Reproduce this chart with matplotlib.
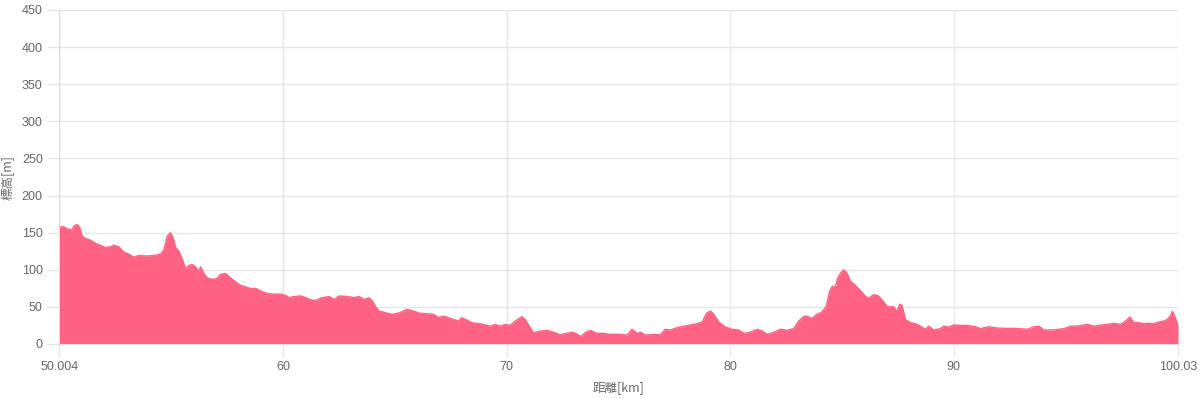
import matplotlib
matplotlib.use("Agg")
import matplotlib.pyplot as plt
from matplotlib.ticker import FixedLocator

plt.rcParams['font.family'] = ['Liberation Sans', 'Noto Sans CJK JP', 'DejaVu Sans']

distance_km = [
    50.004, 50.20, 50.35, 50.50, 50.57, 50.65, 50.80, 50.91, 51.02, 51.17, 51.39, 51.62, 51.84,
    52.06, 52.29, 52.44, 52.66, 52.88, 53.11, 53.33, 53.56, 53.93, 54.23, 54.53, 54.68, 54.83,
    54.97, 55.09, 55.20, 55.35, 55.50, 55.65, 55.80, 55.95, 56.09, 56.24, 56.32, 56.47, 56.62,
    56.84, 57.06, 57.21, 57.44, 57.66, 57.89, 58.11, 58.33, 58.56, 58.78, 59.00, 59.30, 59.60,
    59.90, 60.12, 60.27, 60.50, 60.80, 61.02, 61.32, 61.54, 61.69, 62.06, 62.29, 62.51, 62.88,
    63.18, 63.41, 63.63, 63.85, 64.00, 64.15, 64.30, 64.60, 64.90,
    65.24, 65.54, 65.84, 66.13, 66.43, 66.73, 66.96, 67.18, 67.40, 67.63, 67.85, 68.00, 68.22,
    68.45, 68.67, 68.97, 69.27, 69.49, 69.72, 69.94, 70.16, 70.39, 70.69, 70.84, 71.06, 71.21,
    71.51, 71.81, 72.10, 72.40, 72.70, 72.93, 73.15, 73.33, 73.52, 73.75, 74.04, 74.34, 74.64,
    75.09, 75.39, 75.61, 75.84, 75.99, 76.21, 76.58, 76.88, 77.10, 77.33, 77.63, 77.93, 78.22,
    78.52, 78.75, 78.94, 79.12, 79.27, 79.49, 79.79, 80.09, 80.39, 80.61, 80.91, 81.21, 81.43,
    81.66, 81.96, 82.25, 82.55, 82.85, 83.07,
    83.28, 83.43, 83.66, 83.88, 84.10, 84.30, 84.45, 84.58, 84.70, 84.81, 84.93, 85.07, 85.22,
    85.37, 85.60, 85.82, 86.04, 86.19, 86.42, 86.64, 86.87, 87.04, 87.31, 87.46, 87.58, 87.69,
    87.84, 88.06, 88.28, 88.51, 88.73, 88.88, 89.10, 89.40, 89.55, 89.78, 90.00, 90.30, 90.60,
    90.97, 91.19, 91.57, 91.94, 92.39, 92.84, 93.28, 93.58, 93.81, 94.03, 94.48, 94.93, 95.22,
    95.52, 95.97, 96.27, 96.57, 96.87, 97.16, 97.46, 97.69, 97.88, 98.06, 98.28, 98.51, 98.73,
    98.96, 99.18, 99.40, 99.55, 99.70, 99.78, 99.88, 100.03,
]

elevation_m = [
    157.6, 158, 155, 154.5, 152, 159, 161, 157, 145.5, 142, 140, 135.6, 133,
    130, 131, 133, 131, 124, 121, 117, 119.4, 118.5, 119.4, 121, 127.5, 145.5,
    150, 143, 130, 125, 114, 101.5, 106, 107, 104, 98, 104, 95, 89,
    87, 88.5, 94, 95, 89, 83.5, 79, 77, 74.5, 75, 71.4, 68, 67,
    67.4, 65.5, 62.4, 64, 64.7, 62.4, 58.8, 59.3, 62, 64, 60, 64.7, 64,
    62.4, 64, 60, 62.4, 58, 50, 44.5, 42, 40,
    42.2, 46.7, 44.5, 41.3, 40.9, 40, 35.5, 37.7, 35.5, 33, 31, 35.5, 32.3,
    28.7, 27.8, 26.5, 24, 26.5, 24, 26.5, 25, 31, 36.8, 33, 22, 15.3,
    17.5, 18.4, 16, 12.6, 14.4, 16, 13.5, 10, 15.3, 18.4, 14.4, 14.4, 13,
    13, 12, 19.8, 14.4, 16, 12, 13, 12.6, 19.8, 18.9, 22, 24, 25.6,
    27.4, 29.6, 41.3, 44.5, 40, 29.6, 22.9, 19.8, 18.9, 14.4, 16, 19.8, 17.5,
    13, 16, 19.8, 18.4, 21, 31,
    36.8, 37.7, 34.6, 40, 43, 51, 71.4, 78, 76, 89, 95, 100, 96,
    85, 79, 72.3, 64.7, 61.5, 66.5, 64.7, 56.6, 50, 50.3, 43.6, 53.4, 52,
    33, 28.7, 27.4, 24, 19.8, 24, 18.9, 20.7, 24, 22.9, 25.6, 25, 25,
    23.3, 20.7, 23.3, 21.5, 21, 21, 19.8, 23.3, 24, 18.9, 18.9, 20.7, 24,
    24, 26.5, 24, 25.6, 26.5, 27.8, 26.5, 31, 36.4, 28.7, 28.7, 27.4, 27.8,
    27.4, 29.6, 31, 33, 38.6, 44, 37.7, 25,
]

x_ticks = [50.004, 60, 70, 80, 90, 100.03]
x_tick_labels = ["50.004", "60", "70", "80", "90", "100.03"]
y_ticks = [0, 50, 100, 150, 200, 250, 300, 350, 400, 450]

fill_color = "#FF6384"
grid_color = "#e6e6e6"
text_color = "#666666"

fig = plt.figure(figsize=(12, 3.98), dpi=100)
ax = fig.add_axes([59.4 / 1200, 54 / 398, (1178 - 59.4) / 1200, 334 / 398])

ax.fill_between(distance_km, elevation_m, 0, color=fill_color, lw=0)
ax.plot(distance_km, elevation_m, color=fill_color, lw=1)

ax.set_xlim(x_ticks[0], x_ticks[-1])
ax.set_ylim(0, 450)
ax.xaxis.set_major_locator(FixedLocator(x_ticks))
ax.set_xticklabels(x_tick_labels)
ax.yaxis.set_major_locator(FixedLocator(y_ticks))

ax.grid(True, color=grid_color, lw=1)
ax.set_axisbelow(True)
for side in ["top", "right"]:
    ax.spines[side].set_visible(False)
ax.spines["left"].set_color("#d9d9d9")
ax.spines["bottom"].set_color("#d9d9d9")
ax.tick_params(axis="both", length=9, width=1, color=grid_color,
               labelcolor=text_color, labelsize=9, pad=3)

ax.set_xlabel("距離[km]", color=text_color, fontsize=9,
              family=['Noto Sans CJK JP', 'Liberation Sans'], labelpad=6)
ax.set_ylabel("標高[m]", color=text_color, fontsize=9,
              family=['Noto Sans CJK JP', 'Liberation Sans'], labelpad=6)

fig.savefig("out.png", dpi=100)
